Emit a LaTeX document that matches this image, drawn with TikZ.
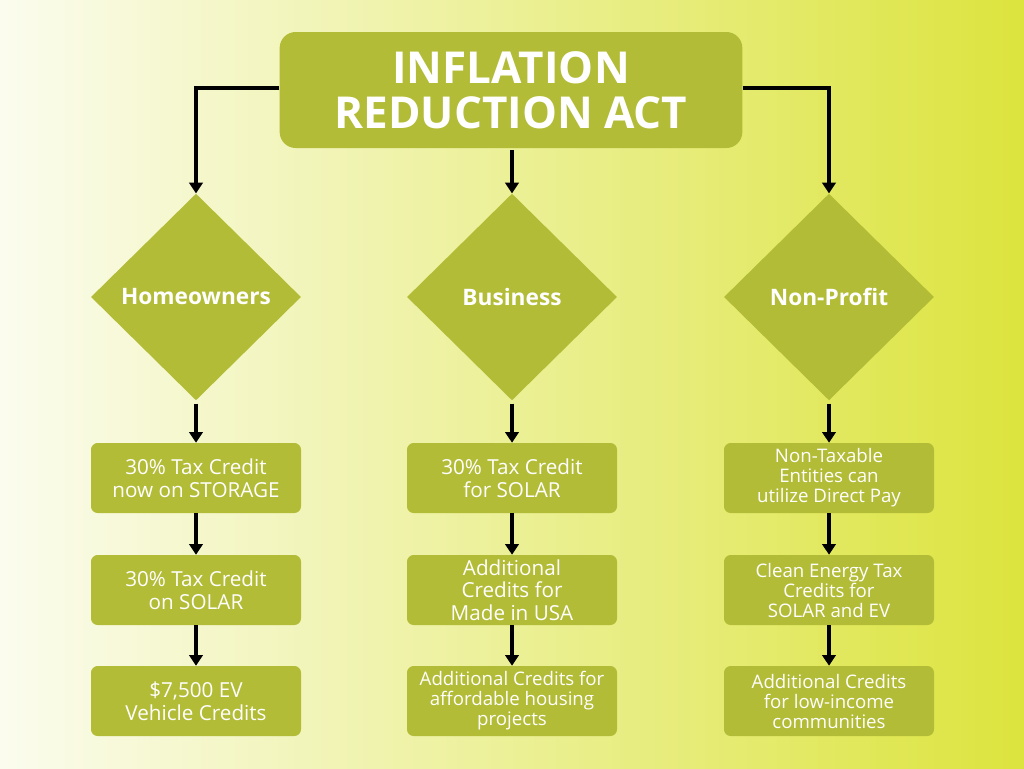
\documentclass[tikz,border=0pt]{standalone}
\usepackage{fontspec}
\setmainfont{Open Sans}
\usetikzlibrary{shapes.geometric,arrows.meta}
\definecolor{olive}{HTML}{B3BC36}
\definecolor{bgl}{HTML}{FBFCEE}
\definecolor{bgr}{HTML}{DCE43E}
\begin{document}
\begin{tikzpicture}[x=0.75pt,y=-0.75pt,
  box/.style={fill=olive,rounded corners=5pt,minimum width=157.5pt,minimum height=52.5pt,text=white,align=center,font=\fontsize{15.5}{17}\selectfont,inner sep=1pt},
  sbox/.style={box,font=\fontsize{14}{15}\selectfont},
  dia/.style={fill=olive,diamond,minimum width=157.5pt,minimum height=155pt,inner sep=0pt,text=white,font=\bfseries\fontsize{17}{18}\selectfont},
  arr/.style={line width=3pt,-{Triangle[length=8pt,width=10pt]}}]
\shade[left color=bgl,right color=bgr] (0,0) rectangle (1024,768);
\useasboundingbox (0,0) rectangle (1024,768);
\node[fill=olive,rounded corners=12pt,minimum width=347pt,minimum height=87pt,text=white,align=center,font=\bfseries\fontsize{33}{34}\selectfont] (t) at (511,90) {INFLATION\\REDUCTION ACT};
\node[dia] (d1) at (196,297) {Homeowners};
\node[dia] (d2) at (512,297) {Business};
\node[dia] (d3) at (829,297) {Non-Profit};
\node[box] (a1) at (196,478) {30\% Tax Credit\\now on STORAGE};
\node[box] (a2) at (196,590) {30\% Tax Credit\\on SOLAR};
\node[box] (a3) at (196,701) {\$7,500 EV\\Vehicle Credits};
\node[box] (b1) at (512,478) {30\% Tax Credit\\for SOLAR};
\node[box] (b2) at (512,590) {Additional\\Credits for\\Made in USA};
\node[sbox] (b3) at (512,701) {Additional Credits for\\affordable housing\\projects};
\node[sbox] (c1) at (829,478) {Non-Taxable\\Entities can\\utilize Direct Pay};
\node[sbox] (c2) at (829,590) {Clean Energy Tax\\Credits for\\SOLAR and EV};
\node[sbox] (c3) at (829,701) {Additional Credits\\for low-income\\communities};
\draw[arr] (t.west |- 0,88) -- (196,88) -- (d1.north);
\draw[arr] (t.east |- 0,88) -- (829,88) -- (d3.north);
\draw[arr] (512,150) -- (d2.north);
\foreach \d/\a/\b/\c in {d1/a1/a2/a3,d2/b1/b2/b3,d3/c1/c2/c3}{
  \draw[arr] (\d.south) ++(0,3) -- (\a.north);
  \draw[arr] (\a.south) -- (\b.north);
  \draw[arr] (\b.south) -- (\c.north);}
\end{tikzpicture}
\end{document}
